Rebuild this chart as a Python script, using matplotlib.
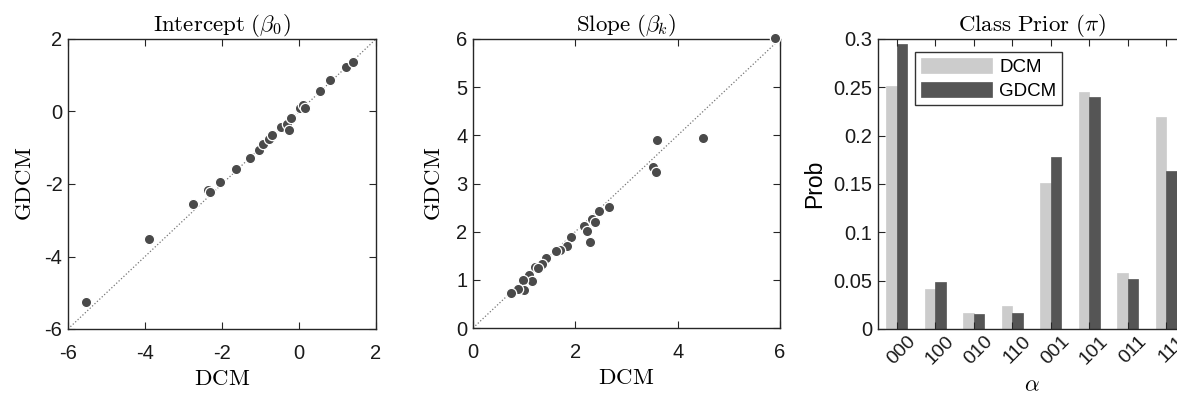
import matplotlib
matplotlib.use("Agg")
import matplotlib.pyplot as plt
import matplotlib.transforms as mtransforms
import numpy as np

plt.rcParams['font.family'] = ['Liberation Sans', 'DejaVu Sans']
plt.rcParams['mathtext.fontset'] = 'cm'
plt.rcParams['axes.unicode_minus'] = False

# Intercept (beta_0): DCM vs GDCM
int_dcm = [-5.52, -3.89, -2.75, -2.36, -2.30, -2.04, -1.63, -1.27, -1.05, -0.93,
           -0.775, -0.71, -0.48, -0.31, -0.26, -0.21, 0.02, 0.11, 0.15, 0.54,
           0.80, 1.21, 1.41]
int_gdcm = [-5.25, -3.53, -2.54, -2.17, -2.23, -1.95, -1.60, -1.28, -1.07, -0.90,
            -0.75, -0.65, -0.42, -0.35, -0.51, -0.19, 0.09, 0.18, 0.09, 0.57,
            0.87, 1.24, 1.36]

# Slope (beta_k): DCM vs GDCM
slope_dcm = [5.91, 4.49, 3.59, 3.51, 3.58, 2.65, 2.47, 2.32, 2.39, 2.17,
             2.23, 2.28, 1.92, 1.83, 1.70, 1.63, 1.43, 1.35, 1.22, 1.27,
             1.09, 1.15, 0.98, 1.00, 0.87, 0.74]
slope_gdcm = [6.02, 3.95, 3.91, 3.34, 3.23, 2.52, 2.42, 2.27, 2.20, 2.12,
              2.01, 1.78, 1.88, 1.71, 1.61, 1.59, 1.45, 1.33, 1.26, 1.24,
              1.11, 0.98, 0.99, 0.79, 0.82, 0.73]

# Class prior
classes = ['000', '100', '010', '110', '001', '101', '011', '111']
prior_dcm = [0.2514, 0.041, 0.0162, 0.0238, 0.1514, 0.2455, 0.0583, 0.219]
prior_gdcm = [0.2945, 0.0483, 0.0155, 0.0162, 0.178, 0.240, 0.052, 0.1634]

W, H = 1177, 396
fig = plt.figure(figsize=(W / 100, H / 100), dpi=100)

def axrect(x0, x1, ytop, ybot):
    return [x0 / W, (H - ybot) / H, (x1 - x0) / W, (ybot - ytop) / H]

ax1 = fig.add_axes(axrect(68, 376, 39, 329))
ax2 = fig.add_axes(axrect(473, 780, 39, 328))
ax3 = fig.add_axes(axrect(877.5, 1185.5, 39, 329))

spine_col = '#262626'
pt_col = '#4a4a4a'

def style(ax, xpad=11):
    for s in ax.spines.values():
        s.set_color(spine_col)
        s.set_linewidth(1.0)
    ax.tick_params(direction='in', top=True, right=True, length=5, width=0.8,
                   color=spine_col, labelsize=14.5, labelcolor='#1a1a1a')
    ax.tick_params(axis='y', pad=4)
    ax.tick_params(axis='x', pad=xpad)

# Panel 1
ax1.plot([-6, 2], [-6, 2], linestyle=':', color='#777777', linewidth=0.9)
ax1.scatter(int_dcm, int_gdcm, s=55, color=pt_col, edgecolors='white',
            linewidths=0.9, zorder=3, clip_on=False)
ax1.set_xlim(-6, 2)
ax1.set_ylim(-6, 2)
ax1.set_xticks([-6, -4, -2, 0, 2])
ax1.set_yticks([-6, -4, -2, 0, 2])
ax1.set_title(r'$\mathrm{Intercept}\ (\beta_0)$', fontsize=16.5, pad=6)
ax1.set_xlabel(r'$\mathrm{DCM}$', fontsize=16.5, labelpad=3)
ax1.set_ylabel(r'$\mathrm{GDCM}$', fontsize=16.5, labelpad=6)
style(ax1)

# Panel 2
ax2.plot([0, 6], [0, 6], linestyle=':', color='#777777', linewidth=0.9)
ax2.scatter(slope_dcm, slope_gdcm, s=55, color=pt_col, edgecolors='white',
            linewidths=0.9, zorder=3, clip_on=False)
ax2.set_xlim(0, 6)
ax2.set_ylim(0, 6)
ax2.set_xticks([0, 2, 4, 6])
ax2.set_yticks([0, 1, 2, 3, 4, 5, 6])
ax2.set_title(r'$\mathrm{Slope}\ (\beta_k)$', fontsize=16.5, pad=6)
ax2.set_xlabel(r'$\mathrm{DCM}$', fontsize=16.5, labelpad=3)
ax2.set_ylabel(r'$\mathrm{GDCM}$', fontsize=16.5, labelpad=8)
style(ax2)

# Panel 3
x = np.arange(1, len(classes) + 1)
bw = 0.275
ax3.bar(x - bw / 2, prior_dcm, width=bw, color='#cccccc', edgecolor='#cccccc',
        linewidth=0.5, label='DCM')
ax3.bar(x + bw / 2, prior_gdcm, width=bw, color='#555555', edgecolor='#555555',
        linewidth=0.5, label='GDCM')
ax3.set_xlim(0.5, len(classes) + 0.5)
ax3.set_ylim(0, 0.3)
ax3.set_xticks(x)
ax3.set_xticklabels(classes, rotation=45, ha='right', rotation_mode='anchor')
ax3.set_yticks([0, 0.05, 0.1, 0.15, 0.2, 0.25, 0.3])
ax3.set_yticklabels(['0', '0.05', '0.1', '0.15', '0.2', '0.25', '0.3'])
ax3.set_title(r'$\mathrm{Class\ Prior}\ (\pi)$', fontsize=16.5, pad=6)
ax3.set_xlabel(r'$\alpha$', fontsize=16.5, labelpad=3.5)
ax3.set_ylabel('Prob', fontsize=16.5, labelpad=5)
style(ax3, xpad=3)
shift = mtransforms.ScaledTranslation(10 / 100, 0, fig.dpi_scale_trans)
for lab in ax3.get_xticklabels():
    lab.set_fontsize(14)
    lab.set_transform(lab.get_transform() + shift)
leg = ax3.legend(loc='upper left', bbox_to_anchor=(0.122, 0.955), fontsize=13.5,
                 frameon=True, fancybox=False, edgecolor='black',
                 handlelength=3.8, handleheight=0.9, borderpad=0.3,
                 labelspacing=0.3, handletextpad=0.4, borderaxespad=0)
leg.get_frame().set_linewidth(1.0)

fig.savefig('out.png', dpi=100)
